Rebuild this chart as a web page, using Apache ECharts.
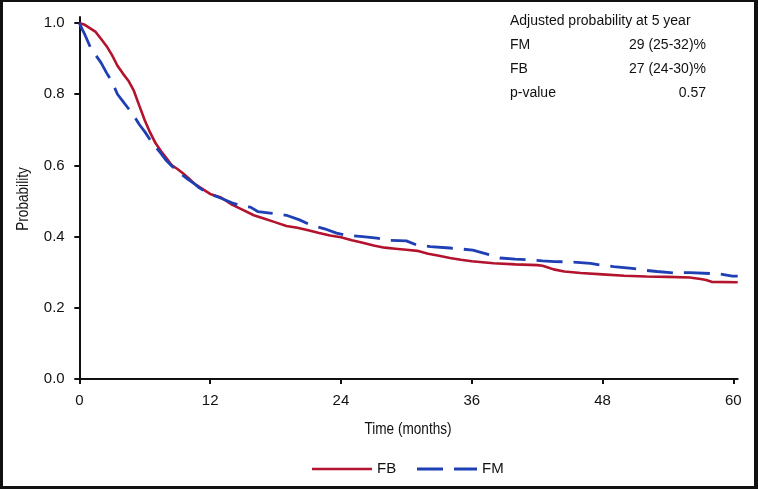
<!DOCTYPE html>
<html>
<head>
<meta charset="utf-8">
<script src="https://cdn.jsdelivr.net/npm/echarts@6/dist/echarts.min.js"></script>
<style>
html,body{margin:0;padding:0;background:#fff;}
#frame{position:absolute;left:0;top:0;width:758px;height:489px;box-sizing:border-box;border-style:solid;border-color:#111;border-width:2px 4px 3px 3px;}
#chart{position:absolute;left:0;top:0;width:758px;height:489px;}
</style>
</head>
<body>
<div id="chart"></div>
<div id="frame"></div>
<script>
// Time (months) and survival probability
const fbTime = [0,0.5,1,1.5,2,2.5,3,3.5,4,4.5,5,5.5,6,6.5,7,7.5,8,8.5,9,9.5,10,10.5,11,11.5,12,13,14,15,16,17,18,19,20,21,22,23,24,25,26,27,28,29,30,31,32,33,34,35,36,37,38,40,42,42.5,43,43.5,44.5,46,48,50,52,54,56,57,57.5,58,60.4];
const fbProb = [1.0,0.995,0.985,0.975,0.955,0.935,0.91,0.88,0.858,0.838,0.81,0.768,0.727,0.692,0.662,0.64,0.62,0.60,0.59,0.578,0.565,0.55,0.54,0.53,0.52,0.51,0.49,0.475,0.46,0.45,0.44,0.43,0.425,0.418,0.41,0.403,0.398,0.39,0.383,0.375,0.369,0.366,0.363,0.36,0.352,0.346,0.34,0.335,0.331,0.328,0.325,0.322,0.32,0.318,0.313,0.308,0.302,0.298,0.294,0.29,0.288,0.287,0.285,0.281,0.278,0.273,0.272];
const fmTime = [0,0.3,0.5,1,1.5,2,2.5,3,3.5,4,4.5,5,5.5,6,6.5,7,7.5,8,8.5,9,9.5,10,10.5,11,11.5,12,13,14,15,15.7,16.4,17.5,19,20.2,21.2,22.5,23.6,24.4,26,27.3,28.3,30,31,32.2,34,35.1,36.1,37.5,38.6,40,42.5,43.6,45,46.9,47.9,49,50.7,51.7,53,54.6,56,58.8,59.9,60.4];
const fmProb = [1.0,0.98,0.968,0.933,0.91,0.888,0.86,0.835,0.80,0.78,0.76,0.74,0.715,0.695,0.672,0.652,0.633,0.613,0.598,0.585,0.572,0.56,0.55,0.537,0.528,0.52,0.508,0.495,0.485,0.483,0.47,0.466,0.46,0.447,0.433,0.422,0.41,0.404,0.4,0.396,0.39,0.388,0.376,0.372,0.368,0.365,0.362,0.35,0.34,0.337,0.332,0.33,0.329,0.325,0.32,0.316,0.311,0.306,0.302,0.298,0.299,0.295,0.289,0.289];
const xTicks = [0,12,24,36,48,60];
const yTicks = [0,0.2,0.4,0.6,0.8,1.0];
const seriesNames = ['FB','FM'];
const statTitle = 'Adjusted probability at 5 year';
const statRows = [['FM','29 (25-32)%'],['FB','27 (24-30)%'],['p-value','0.57']];

const red = '#b3132d', blue = '#1f3fb5';
const colors = [red, blue];
const dashes = [null, [26,11]];
const widths = [2.6, 2.8];
const tickFont = 'Liberation Sans, Arial, Helvetica, sans-serif';

const zip = (a,b)=>a.map((v,i)=>[v,b[i]]);
const chart = echarts.init(document.getElementById('chart'), null, {renderer:'canvas'});

const graphics = [
  {type:'text', left:510, top:14, style:{text:statTitle, font:'14px ' + tickFont, fill:'#111'}}
];
statRows.forEach((r,i)=>{
  graphics.push({type:'text', left:510, top:38 + i*24, style:{text:r[0], font:'14px ' + tickFont, fill:'#111'}});
  graphics.push({type:'text', right:52, top:38 + i*24, style:{text:r[1], font:'14px ' + tickFont, fill:'#111', align:'right'}});
});
// axis titles (condensed look via horizontal scale)
graphics.push({type:'text', x:23, y:199, rotation:Math.PI/2, scaleX:0.8, style:{text:'Probability', font:'17px ' + tickFont, fill:'#111', align:'center', verticalAlign:'middle'}});
graphics.push({type:'text', x:408, y:429, scaleX:0.8, style:{text:'Time (months)', font:'17px ' + tickFont, fill:'#111', align:'center', verticalAlign:'middle'}});
// legend
let lx = 312;
seriesNames.forEach((n,i)=>{
  graphics.push({type:'line', shape:{x1:lx, y1:469, x2:lx+60, y2:469}, style:{stroke:colors[i], lineWidth:widths[i], lineDash:dashes[i]}});
  graphics.push({type:'text', x:lx+65, y:469, style:{text:n, font:'15px ' + tickFont, fill:'#111', verticalAlign:'middle'}});
  lx += 105;
});

chart.setOption({
  animation:false,
  backgroundColor:'#fff',
  grid:{left:77.7, right:20.3, top:17, bottom:108, containLabel:false},
  xAxis:{
    type:'value', min:-0.15, max:60.4,
    axisLine:{show:true, lineStyle:{color:'#111', width:2}},
    axisTick:{show:true, length:5, customValues:xTicks, lineStyle:{color:'#111', width:2}},
    axisLabel:{customValues:xTicks, margin:12, fontFamily:tickFont, fontSize:15, color:'#111'},
    splitLine:{show:false}
  },
  yAxis:{
    type:'value', min:-0.0056, max:1.017,
    axisLine:{show:true, lineStyle:{color:'#111', width:2}},
    axisTick:{show:true, length:5, customValues:yTicks, lineStyle:{color:'#111', width:2}},
    axisLabel:{customValues:yTicks, margin:13, fontFamily:tickFont, fontSize:15, color:'#111', formatter:v=>v.toFixed(1)},
    splitLine:{show:false}
  },
  graphic:graphics,
  series:seriesNames.map((n,i)=>({
    name:n, type:'line', data: i===0 ? zip(fbTime,fbProb) : zip(fmTime,fmProb),
    symbol:'none', lineStyle:{color:colors[i], width:widths[i], type: dashes[i] || 'solid'}, itemStyle:{color:colors[i]}, z:2+i
  }))
});
</script>
</body>
</html>
